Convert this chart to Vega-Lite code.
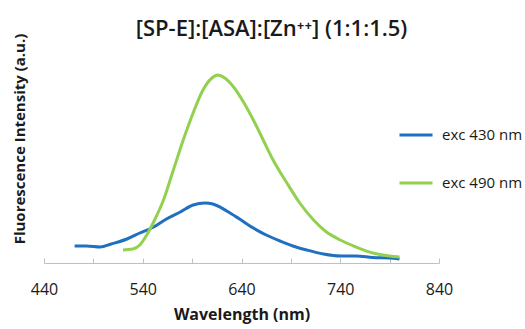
{
  "$schema": "https://vega.github.io/schema/vega-lite/v6.json",
  "width": 395,
  "height": 249,
  "autosize": "none",
  "padding": {"left": 44, "top": 14, "right": 86, "bottom": 66},
  "background": "white",
  "config": {"view": {"stroke": null}, "font": "Open Sans"},
  "title": {
    "text": "[SP-E]:[ASA]:[Zn⁺⁺] (1:1:1.5)",
    "font": "Open Sans",
    "fontSize": 22,
    "fontWeight": 600,
    "color": "#1a1a1a",
    "anchor": "middle",
    "dx": 30,
    "offset": -27
  },
  "data": {"values": [
    {"s": "exc 430 nm", "wl": 471, "v": 17},
    {"s": "exc 430 nm", "wl": 483, "v": 17},
    {"s": "exc 430 nm", "wl": 497, "v": 16},
    {"s": "exc 430 nm", "wl": 508, "v": 19},
    {"s": "exc 430 nm", "wl": 524, "v": 24},
    {"s": "exc 430 nm", "wl": 537, "v": 30},
    {"s": "exc 430 nm", "wl": 551, "v": 36},
    {"s": "exc 430 nm", "wl": 564, "v": 44},
    {"s": "exc 430 nm", "wl": 578, "v": 51},
    {"s": "exc 430 nm", "wl": 591, "v": 58},
    {"s": "exc 430 nm", "wl": 603, "v": 60},
    {"s": "exc 430 nm", "wl": 611, "v": 59},
    {"s": "exc 430 nm", "wl": 625, "v": 52},
    {"s": "exc 430 nm", "wl": 638, "v": 44},
    {"s": "exc 430 nm", "wl": 652, "v": 35},
    {"s": "exc 430 nm", "wl": 665, "v": 28},
    {"s": "exc 430 nm", "wl": 679, "v": 22},
    {"s": "exc 430 nm", "wl": 692, "v": 17},
    {"s": "exc 430 nm", "wl": 706, "v": 13},
    {"s": "exc 430 nm", "wl": 723, "v": 9},
    {"s": "exc 430 nm", "wl": 740, "v": 7},
    {"s": "exc 430 nm", "wl": 756, "v": 7},
    {"s": "exc 430 nm", "wl": 773, "v": 5.5},
    {"s": "exc 430 nm", "wl": 790, "v": 5},
    {"s": "exc 430 nm", "wl": 800, "v": 4},
    {"s": "exc 490 nm", "wl": 520, "v": 13},
    {"s": "exc 490 nm", "wl": 530, "v": 14},
    {"s": "exc 490 nm", "wl": 537, "v": 18},
    {"s": "exc 490 nm", "wl": 544, "v": 28},
    {"s": "exc 490 nm", "wl": 552, "v": 43},
    {"s": "exc 490 nm", "wl": 561, "v": 63},
    {"s": "exc 490 nm", "wl": 571, "v": 93},
    {"s": "exc 490 nm", "wl": 581, "v": 123},
    {"s": "exc 490 nm", "wl": 591, "v": 150},
    {"s": "exc 490 nm", "wl": 601, "v": 173},
    {"s": "exc 490 nm", "wl": 610, "v": 185},
    {"s": "exc 490 nm", "wl": 616, "v": 188},
    {"s": "exc 490 nm", "wl": 623, "v": 185},
    {"s": "exc 490 nm", "wl": 632, "v": 176},
    {"s": "exc 490 nm", "wl": 642, "v": 161},
    {"s": "exc 490 nm", "wl": 652, "v": 143},
    {"s": "exc 490 nm", "wl": 662, "v": 123},
    {"s": "exc 490 nm", "wl": 672, "v": 103},
    {"s": "exc 490 nm", "wl": 686, "v": 80},
    {"s": "exc 490 nm", "wl": 699, "v": 60},
    {"s": "exc 490 nm", "wl": 713, "v": 43},
    {"s": "exc 490 nm", "wl": 726, "v": 31},
    {"s": "exc 490 nm", "wl": 740, "v": 23},
    {"s": "exc 490 nm", "wl": 756, "v": 16},
    {"s": "exc 490 nm", "wl": 773, "v": 10},
    {"s": "exc 490 nm", "wl": 790, "v": 7},
    {"s": "exc 490 nm", "wl": 800, "v": 6}
  ]},
  "mark": {"type": "line", "strokeWidth": 3, "interpolate": "monotone"},
  "encoding": {
    "x": {
      "field": "wl", "type": "quantitative",
      "scale": {"domain": [440, 840], "nice": false, "zero": false},
      "axis": {
        "title": "Wavelength (nm)",
        "values": [440, 490, 540, 590, 640, 690, 740, 790, 840],
        "labelExpr": "datum.value % 100 == 40 ? datum.label : ''",
        "grid": false,
        "domainColor": "#c0c0c0",
        "tickColor": "#c0c0c0",
        "tickSize": -5,
        "labelFont": "Open Sans",
        "labelFontSize": 16,
        "labelColor": "#1a1a1a",
        "labelPadding": 23,
        "labelFlush": false,
        "titleFont": "Open Sans",
        "titleFontSize": 16,
        "titleFontWeight": "bold",
        "titleColor": "#1a1a1a",
        "titlePadding": 9
      }
    },
    "y": {
      "field": "v", "type": "quantitative",
      "scale": {"domain": [0, 249], "nice": false},
      "axis": {
        "title": "Fluorescence Intensity (a.u.)",
        "domain": false, "ticks": false, "labels": false, "grid": false,
        "titleFont": "Open Sans",
        "titleFontSize": 15,
        "titleFontWeight": "bold",
        "titleColor": "#1a1a1a",
        "titlePadding": 17
      }
    },
    "color": {
      "field": "s", "type": "nominal",
      "scale": {"domain": ["exc 430 nm", "exc 490 nm"], "range": ["#1f70c1", "#92d050"]},
      "legend": {
        "title": null,
        "orient": "none",
        "legendX": 354,
        "legendY": 103,
        "symbolType": "stroke",
        "symbolSize": 1089,
        "symbolStrokeWidth": 3,
        "labelFont": "Open Sans",
        "labelFontSize": 15,
        "labelColor": "#1a1a1a",
        "labelOffset": 8,
        "rowPadding": 22
      }
    }
  }
}
